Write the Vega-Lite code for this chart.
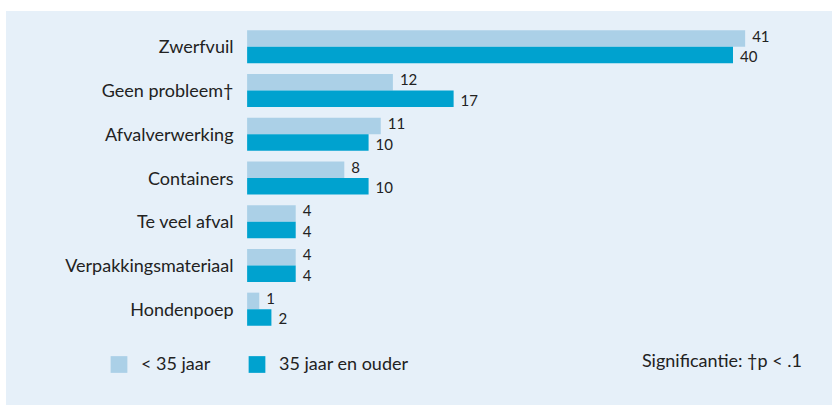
{
  "$schema": "https://vega.github.io/schema/vega-lite/v6.json",
  "width": 826,
  "height": 394,
  "autosize": {"type": "none"},
  "padding": {"left": 6, "top": 11, "right": 0, "bottom": 0},
  "background": "white",
  "config": {"view": {"fill": "#e6f0f9", "stroke": null}, "font": "Lato"},
  "title": {
    "text": "Significantie: †p < .1",
    "orient": "bottom",
    "anchor": "end",
    "frame": "group",
    "offset": -52,
    "dx": -30,
    "fontSize": 18,
    "fontWeight": "normal",
    "color": "#222222",
    "font": "Lato"
  },
  "data": {
    "values": [
      {"categorie": "Zwerfvuil", "groep": "< 35 jaar", "pct": 41},
      {"categorie": "Zwerfvuil", "groep": "35 jaar en ouder", "pct": 40},
      {"categorie": "Geen probleem†", "groep": "< 35 jaar", "pct": 12},
      {"categorie": "Geen probleem†", "groep": "35 jaar en ouder", "pct": 17},
      {"categorie": "Afvalverwerking", "groep": "< 35 jaar", "pct": 11},
      {"categorie": "Afvalverwerking", "groep": "35 jaar en ouder", "pct": 10},
      {"categorie": "Containers", "groep": "< 35 jaar", "pct": 8},
      {"categorie": "Containers", "groep": "35 jaar en ouder", "pct": 10},
      {"categorie": "Te veel afval", "groep": "< 35 jaar", "pct": 4},
      {"categorie": "Te veel afval", "groep": "35 jaar en ouder", "pct": 4},
      {"categorie": "Verpakkingsmateriaal", "groep": "< 35 jaar", "pct": 4},
      {"categorie": "Verpakkingsmateriaal", "groep": "35 jaar en ouder", "pct": 4},
      {"categorie": "Hondenpoep", "groep": "< 35 jaar", "pct": 1},
      {"categorie": "Hondenpoep", "groep": "35 jaar en ouder", "pct": 2}
    ]
  },
  "encoding": {
    "y": {
      "field": "categorie",
      "type": "nominal",
      "sort": ["Zwerfvuil", "Geen probleem†", "Afvalverwerking", "Containers", "Te veel afval", "Verpakkingsmateriaal", "Hondenpoep"],
      "scale": {"range": [14, 320], "paddingInner": 0.245, "paddingOuter": 0.1225},
      "axis": {
        "title": null,
        "orient": "left",
        "offset": -241,
        "domain": false,
        "ticks": false,
        "grid": false,
        "labelPadding": 14,
        "labelOffset": 1.5,
        "labelFontSize": 18,
        "labelColor": "#222222",
        "labelFont": "Lato",
        "labelLimit": 300
      }
    },
    "yOffset": {
      "field": "groep",
      "type": "nominal",
      "sort": ["< 35 jaar", "35 jaar en ouder"],
      "scale": {"paddingInner": 0, "paddingOuter": 0}
    },
    "x": {
      "field": "pct",
      "type": "quantitative",
      "scale": {"domain": [-19.85, 48.15], "nice": false, "zero": false},
      "axis": null
    }
  },
  "layer": [
    {
      "mark": {"type": "bar"},
      "encoding": {
        "x2": {"datum": 0},
        "color": {
          "field": "groep",
          "type": "nominal",
          "sort": ["< 35 jaar", "35 jaar en ouder"],
          "scale": {"domain": ["< 35 jaar", "35 jaar en ouder"], "range": ["#abd0e7", "#00a2cf"]},
          "legend": {
            "orient": "none",
            "legendX": 104,
            "legendY": 344.5,
            "direction": "horizontal",
            "title": null,
            "symbolType": "square",
            "symbolSize": 280,
            "symbolStrokeWidth": 0,
            "symbolOpacity": 1,
            "labelFontSize": 18,
            "labelFont": "Lato",
            "labelOffset": 13,
            "columnPadding": 37,
            "labelColor": "#222222",
            "padding": 0
          }
        }
      }
    },
    {
      "transform": [{"filter": "datum.groep == '< 35 jaar'"}],
      "mark": {"type": "text", "align": "left", "baseline": "middle", "dx": 7, "dy": -2, "fontSize": 15, "color": "#222222"},
      "encoding": {"text": {"field": "pct", "type": "quantitative"}}
    },
    {
      "transform": [{"filter": "datum.groep == '35 jaar en ouder'"}],
      "mark": {"type": "text", "align": "left", "baseline": "middle", "dx": 7, "dy": 2, "fontSize": 15, "color": "#222222"},
      "encoding": {"text": {"field": "pct", "type": "quantitative"}}
    }
  ]
}
